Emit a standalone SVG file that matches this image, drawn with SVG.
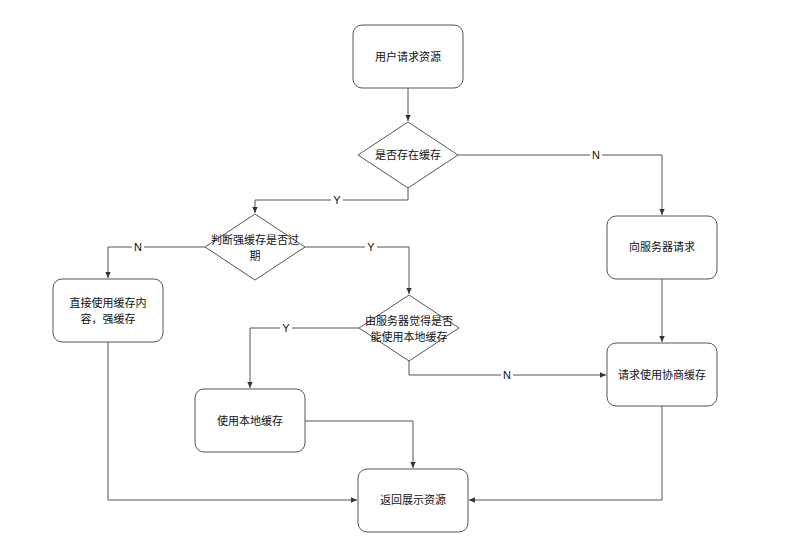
<svg xmlns="http://www.w3.org/2000/svg" width="786" height="551" viewBox="0 0 786 551">
<defs>
<marker id="arr" viewBox="0 0 10 10" refX="9" refY="5" markerWidth="7" markerHeight="7" orient="auto" markerUnits="userSpaceOnUse">
<path d="M0,1 L9,5 L0,9 Z" fill="#333"/>
</marker>
<style>
.n{fill:#fff;stroke:#555;stroke-width:1}
.t{font-family:"Liberation Sans","Noto Sans CJK SC",sans-serif;font-size:11px;fill:#111;text-anchor:middle;dominant-baseline:central}
.e{fill:none;stroke:#555;stroke-width:1;marker-end:url(#arr)}
.lb{fill:#fff}
</style>
</defs>
<rect width="786" height="551" fill="#fff"/>
<g id="edges">
<path class="e" d="M408,88 V121"/>
<path class="e" d="M458,155 H662 V215"/>
<path class="e" d="M408,188 V200 H255 V213"/>
<path class="e" d="M205,247 H108 V278"/>
<path class="e" d="M305,247 H409 V294"/>
<path class="e" d="M359,328 H250 V388"/>
<path class="e" d="M409,361 V375 H606"/>
<path class="e" d="M662,279 V342"/>
<path class="e" d="M305,421 H413 V468"/>
<path class="e" d="M108,342 V500 H357"/>
<path class="e" d="M662,406 V500 H469"/>
<g id="labels">
<rect class="lb" x="590" y="148" width="12" height="14"/><text class="t" x="596" y="155">N</text>
<rect class="lb" x="331" y="193" width="12" height="14"/><text class="t" x="337" y="200">Y</text>
<rect class="lb" x="132" y="240" width="12" height="14"/><text class="t" x="138" y="247">N</text>
<rect class="lb" x="365" y="240" width="12" height="14"/><text class="t" x="371" y="247">Y</text>
<rect class="lb" x="280" y="321" width="12" height="14"/><text class="t" x="286" y="328">Y</text>
<rect class="lb" x="501" y="368" width="12" height="14"/><text class="t" x="507" y="375">N</text>
</g>
</g>
<g id="n1"><rect class="n" x="353" y="25" width="110" height="63" rx="9"/><text class="t" x="408" y="57">用户请求资源</text></g>
<g id="n2"><polygon class="n" points="408,122 458,155 408,188 358,155"/><text class="t" x="408" y="155">是否存在缓存</text></g>
<g id="n3"><rect class="n" x="607" y="216" width="110" height="63" rx="9"/><text class="t" x="662" y="247">向服务器请求</text></g>
<g id="n4"><polygon class="n" points="255,214 305,247 255,280 205,247"/><text class="t" x="255" y="240">判断强缓存是否过</text><text class="t" x="255" y="256">期</text></g>
<g id="n5"><rect class="n" x="53" y="279" width="110" height="63" rx="9"/><text class="t" x="108" y="303">直接使用缓存内</text><text class="t" x="108" y="319">容，强缓存</text></g>
<g id="n6"><polygon class="n" points="409,295 459,328 409,361 359,328"/><text class="t" x="409" y="321">由服务器觉得是否</text><text class="t" x="409" y="337">能使用本地缓存</text></g>
<g id="n7"><rect class="n" x="607" y="343" width="110" height="63" rx="9"/><text class="t" x="662" y="375">请求使用协商缓存</text></g>
<g id="n8"><rect class="n" x="195" y="389" width="110" height="63" rx="9"/><text class="t" x="250" y="421">使用本地缓存</text></g>
<g id="n9"><rect class="n" x="358" y="469" width="110" height="63" rx="9"/><text class="t" x="413" y="500">返回展示资源</text></g>
</svg>
